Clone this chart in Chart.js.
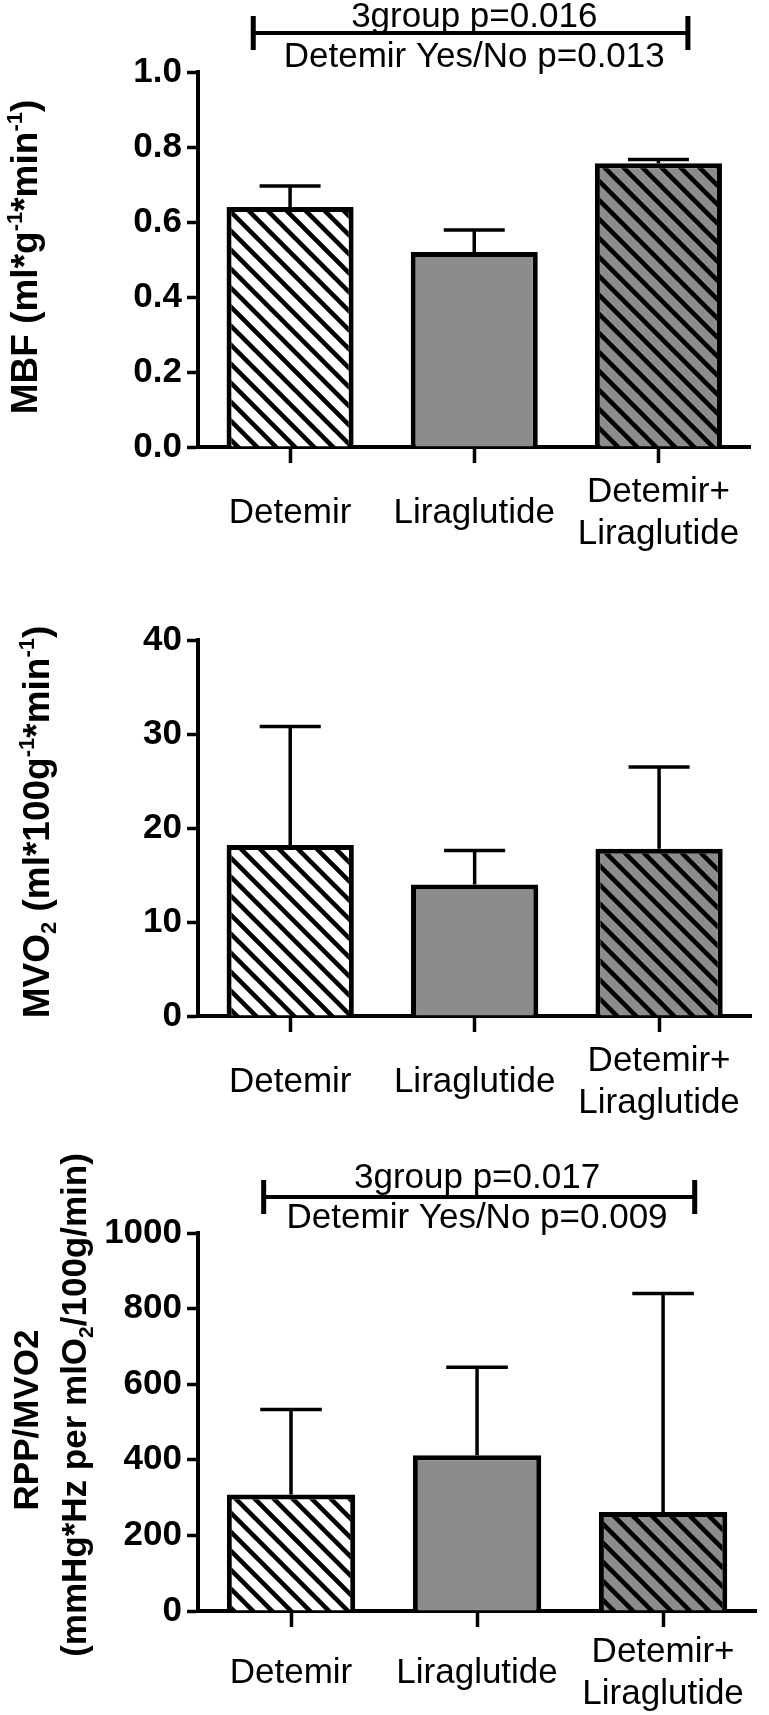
<!DOCTYPE html>
<html>
<head>
<meta charset="utf-8">
<script src="https://cdn.jsdelivr.net/npm/chart.js@4.4.1/dist/chart.umd.min.js"></script>
<style>
  html, body { margin: 0; padding: 0; background: #fff; }
  canvas { display: block; }
</style>
</head>
<body>
<canvas id="mbf" width="769" height="570"></canvas>
<canvas id="mvo2" width="769" height="560"></canvas>
<canvas id="rpp" width="769" height="585"></canvas>
<script>
// ─── Data ───────────────────────────────────────────────────────────
const categories = ['Detemir', 'Liraglutide', ['Detemir+', 'Liraglutide']];

const mbfMean = [0.640, 0.520, 0.757];
const mbfSem  = [0.056, 0.059, 0.010];
const mbfTicks = { max: 1.0, step: 0.2, decimals: 1 };
const mbfStats = ['3group p=0.016', 'Detemir Yes/No p=0.013'];

const mvo2Mean = [18.2, 14.0, 17.8];
const mvo2Sem  = [12.6, 3.6, 8.7];
const mvo2Ticks = { max: 40, step: 10, decimals: 0 };

const rppMean = [308, 412, 262];
const rppSem  = [225, 233, 578];
const rppTicks = { max: 1000, step: 200, decimals: 0 };
const rppStats = ['3group p=0.017', 'Detemir Yes/No p=0.009'];

// axis titles as runs of text: '' normal, 'sup' superscript, 'sub' subscript
const mbfTitle = [[['MBF (ml*g', ''], ['-1', 'sup'], ['*min', ''], ['-1', 'sup'], [')', '']]];
const mvo2Title = [[['MVO', ''], ['2', 'sub'], [' (ml*100g', ''], ['-1', 'sup'], ['*min', ''], ['-1', 'sup'], [')', '']]];
const rppTitle = [
  [['RPP/MVO2', '']],
  [['(mmHg*Hz per mlO', ''], ['2', 'sub'], ['/100g/min)', '']],
];

// ─── Styling helpers ────────────────────────────────────────────────
const FONT = '"Liberation Sans", Arial, Helvetica, sans-serif';
const GRAY = '#8c8c8c';
Chart.defaults.font.family = FONT;
Chart.defaults.color = '#000';

function hatch(ctx, bg) {
  const c = document.createElement('canvas');
  c.width = c.height = 19;
  const g = c.getContext('2d');
  g.fillStyle = bg;
  g.fillRect(0, 0, 19, 19);
  g.strokeStyle = '#000';
  g.lineWidth = 4.5;
  g.beginPath();
  for (const o of [-19, 0, 19]) { g.moveTo(o - 2, -2); g.lineTo(o + 21, 21); }
  g.stroke();
  return ctx.createPattern(c, 'repeat');
}

// mean + SEM whiskers, drawn through the y scale
const errorBars = {
  id: 'errorBars',
  afterDatasetsDraw(chart, args, opts) {
    const { ctx, scales: { y } } = chart;
    const values = chart.data.datasets[0].data;
    ctx.save();
    ctx.strokeStyle = '#000';
    ctx.lineWidth = 3.5;
    chart.getDatasetMeta(0).data.forEach((bar, i) => {
      const top = y.getPixelForValue(values[i] + opts.sem[i]);
      const half = bar.width * 0.24;
      ctx.beginPath();
      ctx.moveTo(bar.x, bar.y); ctx.lineTo(bar.x, top);
      ctx.moveTo(bar.x - half, top); ctx.lineTo(bar.x + half, top);
      ctx.stroke();
    });
    ctx.restore();
  },
};

// significance bracket above the bars
const bracket = {
  id: 'bracket',
  afterDraw(chart, args, o) {
    if (!o.lines) return;
    const { ctx, scales: { x, y } } = chart;
    const top = y.getPixelForValue(y.max);
    const x0 = x.getPixelForValue(o.from), x1 = x.getPixelForValue(o.to);
    const ly = top + o.lineDy;
    ctx.save();
    ctx.strokeStyle = '#000';
    ctx.lineWidth = 4;
    ctx.beginPath(); ctx.moveTo(x0, ly); ctx.lineTo(x1, ly); ctx.stroke();
    ctx.lineWidth = 5;
    ctx.beginPath();
    ctx.moveTo(x0, ly - 17); ctx.lineTo(x0, ly + 17);
    ctx.moveTo(x1, ly - 17); ctx.lineTo(x1, ly + 17);
    ctx.stroke();
    ctx.fillStyle = '#000';
    ctx.font = `35px ${FONT}`;
    ctx.textAlign = 'center';
    ctx.textBaseline = 'alphabetic';
    ctx.fillText(o.lines[0], x.getPixelForValue(1), top - 45);
    ctx.fillText(o.lines[1], x.getPixelForValue(1), top - 5);
    ctx.restore();
  },
};

// rotated y title with super/subscripts
const yTitle = {
  id: 'yTitle',
  afterDraw(chart, args, o) {
    const { ctx } = chart;
    const size = o.size, small = Math.round(o.size * 0.6);
    o.lines.forEach((runs, li) => {
      let total = 0;
      const widths = runs.map(([t, v]) => {
        ctx.font = `bold ${v ? small : size}px ${FONT}`;
        const w = ctx.measureText(t).width;
        total += w;
        return w;
      });
      ctx.save();
      ctx.translate(o.x[li], o.cy[li]);
      ctx.rotate(-Math.PI / 2);
      ctx.fillStyle = '#000';
      ctx.textAlign = 'left';
      ctx.textBaseline = 'alphabetic';
      let pos = -total / 2;
      runs.forEach(([t, v], i) => {
        ctx.font = `bold ${v ? small : size}px ${FONT}`;
        const dy = v === 'sup' ? -size * 0.4 : v === 'sub' ? size * 0.2 : 0;
        ctx.fillText(t, pos, dy);
        pos += widths[i];
      });
      ctx.restore();
    });
  },
};

function makePanel(id, p) {
  const ctx = document.getElementById(id).getContext('2d');
  const H = ctx.canvas.height;
  return new Chart(ctx, {
    type: 'bar',
    data: {
      labels: categories,
      datasets: [{
        data: p.mean,
        backgroundColor: [hatch(ctx, '#fff'), GRAY, hatch(ctx, GRAY)],
        borderColor: '#000',
        borderWidth: 5,
        barPercentage: 0.69,
        categoryPercentage: 1,
      }],
    },
    options: {
      responsive: false,
      animation: false,
      devicePixelRatio: 1,
      layout: { padding: { top: p.top, right: p.right, left: 0, bottom: 0 } },
      plugins: {
        legend: { display: false },
        tooltip: { enabled: false },
        errorBars: { sem: p.sem },
        bracket: p.bracket || {},
        yTitle: p.title,
      },
      scales: {
        x: {
          afterFit: (s) => { s.height = H - p.bottom; },
          grid: { display: true, offset: false, drawOnChartArea: false, drawTicks: true,
                  tickLength: 16, tickWidth: 3.5, tickColor: '#000' },
          border: { display: true, color: '#000', width: 4 },
          ticks: { font: { size: 35 }, padding: p.labelPad, crossAlign: 'center', maxRotation: 0, autoSkip: false },
        },
        y: {
          min: 0,
          max: p.ticks.max,
          afterFit: (s) => { s.width = 198; },
          grid: { display: true, drawOnChartArea: false, drawTicks: true,
                  tickLength: 11, tickWidth: 3.5, tickColor: '#000' },
          border: { display: true, color: '#000', width: 4 },
          ticks: {
            stepSize: p.ticks.step,
            padding: 5,
            font: { size: 35, weight: 'bold' },
            callback: (v) => Number(v).toFixed(p.ticks.decimals),
          },
        },
      },
    },
    plugins: [errorBars, bracket, yTitle],
  });
}

makePanel('mbf', {
  mean: mbfMean, sem: mbfSem, ticks: mbfTicks,
  top: 72, bottom: 447, right: 5, labelPad: 29,
  bracket: { lines: mbfStats, from: -0.2, to: 2.16, lineDy: -39 },
  title: { lines: mbfTitle, size: 37, x: [37], cy: [257] },
});

makePanel('mvo2', {
  mean: mvo2Mean, sem: mvo2Sem, ticks: mvo2Ticks,
  top: 70, bottom: 446, right: 1, labelPad: 29,
  title: { lines: mvo2Title, size: 37, x: [49], cy: [252] },
});

makePanel('rpp', {
  mean: rppMean, sem: rppSem, ticks: rppTicks,
  top: 103, bottom: 481, right: 1, labelPad: 25,
  bracket: { lines: rppStats, from: -0.147, to: 2.17, lineDy: -36 },
  title: { lines: rppTitle, size: 35, x: [38, 86], cy: [290, 275] },
});
</script>
</body>
</html>
